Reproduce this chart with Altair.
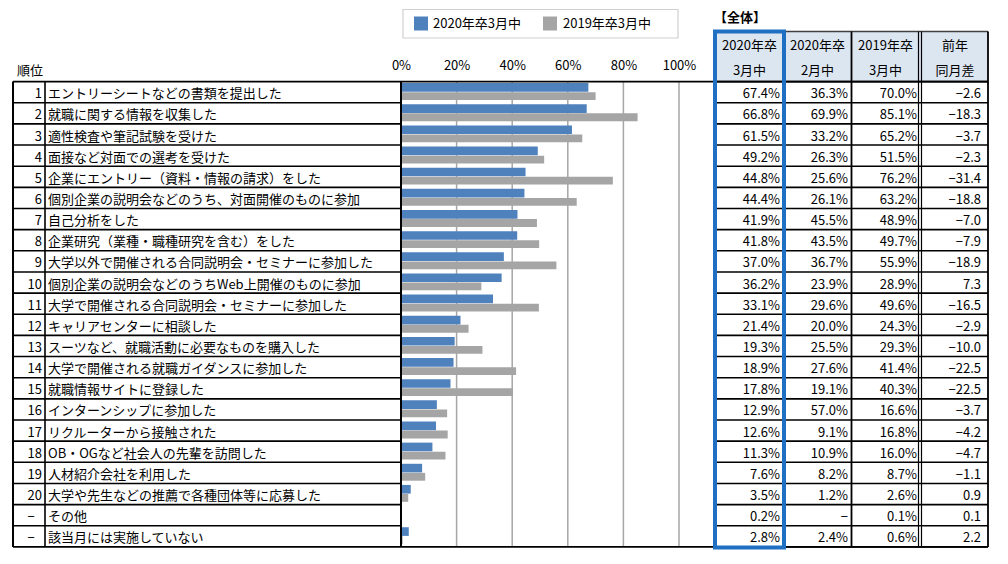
import altair as alt
import pandas as pd

F = "Noto Sans CJK JP"

ranks = [str(i) for i in range(1, 21)] + ["−", "−"]
labels = [
    "エントリーシートなどの書類を提出した",
    "就職に関する情報を収集した",
    "適性検査や筆記試験を受けた",
    "面接など対面での選考を受けた",
    "企業にエントリー（資料・情報の請求）をした",
    "個別企業の説明会などのうち、対面開催のものに参加",
    "自己分析をした",
    "企業研究（業種・職種研究を含む）をした",
    "大学以外で開催される合同説明会・セミナーに参加した",
    "個別企業の説明会などのうちWeb上開催のものに参加",
    "大学で開催される合同説明会・セミナーに参加した",
    "キャリアセンターに相談した",
    "スーツなど、就職活動に必要なものを購入した",
    "大学で開催される就職ガイダンスに参加した",
    "就職情報サイトに登録した",
    "インターンシップに参加した",
    "リクルーターから接触された",
    "OB・OGなど社会人の先輩を訪問した",
    "人材紹介会社を利用した",
    "大学や先生などの推薦で各種団体等に応募した",
    "その他",
    "該当月には実施していない",
]
mar2020 = [67.4, 66.8, 61.5, 49.2, 44.8, 44.4, 41.9, 41.8, 37.0, 36.2, 33.1,
           21.4, 19.3, 18.9, 17.8, 12.9, 12.6, 11.3, 7.6, 3.5, 0.2, 2.8]
feb2020 = [36.3, 69.9, 33.2, 26.3, 25.6, 26.1, 45.5, 43.5, 36.7, 23.9, 29.6,
           20.0, 25.5, 27.6, 19.1, 57.0, 9.1, 10.9, 8.2, 1.2, None, 2.4]
mar2019 = [70.0, 85.1, 65.2, 51.5, 76.2, 63.2, 48.9, 49.7, 55.9, 28.9, 49.6,
           24.3, 29.3, 41.4, 40.3, 16.6, 16.8, 16.0, 8.7, 2.6, 0.1, 0.6]
diff = [-2.6, -18.3, -3.7, -2.3, -31.4, -18.8, -7.0, -7.9, -18.9, 7.3, -16.5,
        -2.9, -10.0, -22.5, -22.5, -3.7, -4.2, -4.7, -1.1, 0.9, 0.1, 2.2]

series_names = ["2020年卒3月中", "2019年卒3月中"]
series_colors = ["#4f81bd", "#a5a5a5"]
axis_ticks = [0, 20, 40, 60, 80, 100]
headers = [("2020年卒", "3月中"), ("2020年卒", "2月中"), ("2019年卒", "3月中"), ("前年", "同月差")]


def pct(v):
    return "−" if v is None else f"{v:.1f}%"


def sgn(v):
    return (f"−{abs(v):.1f}" if v < 0 else f"{v:.1f}")


N = len(labels)
df = pd.DataFrame({
    "row": list(range(N)),
    "rank_num": [r if r != "−" else "" for r in ranks],
    "rank_dash": [r if r == "−" else "" for r in ranks],
    "label": labels,
    "c1": [pct(v) for v in mar2020],
    "c2": [pct(v) for v in feb2020],
    "c3": [pct(v) for v in mar2019],
    "c4": [sgn(v) for v in diff],
})
bars = pd.DataFrame({
    "row": list(range(N)) * 2,
    "series": [series_names[0]] * N + [series_names[1]] * N,
    "value": mar2020 + mar2019,
})
bounds = pd.DataFrame({"b": list(range(N + 1))})
grid = pd.DataFrame({"g": axis_ticks[1:]})
one = pd.DataFrame({"a": [0]})

# layout
H = 548
ROW_TOP_PX = 72.6
ROW_H = 21.15
Y_TOP = -ROW_TOP_PX / ROW_H
Y_BOT = Y_TOP + H / ROW_H
yscale = alt.Scale(domain=[Y_TOP, Y_BOT], reverse=True, nice=False, zero=False)
WA, WB, WC = 393, 311, 288
PX_PER_PCT = 2.78
xscale = alt.Scale(domain=[0, WB / PX_PER_PCT], nice=False, zero=False)


def hline(data, field, x0, x1, color="black", w=1.5):
    return alt.Chart(data).mark_rule(color=color, strokeWidth=w).encode(
        x=alt.value(x0), x2=alt.value(x1), y=alt.Y(f"{field}:Q", scale=yscale, axis=None))


def vline(px, y0, y1, color="black", w=1.5):
    return alt.Chart(one).mark_rule(color=color, strokeWidth=w).encode(
        x=alt.value(px), y=alt.Y(datum=y0, scale=yscale, axis=None), y2=alt.Y2(datum=y1))


def vline_px(px, y0px, y1px, color="black", w=1.5):
    return alt.Chart(one).mark_rule(color=color, strokeWidth=w).encode(
        x=alt.value(px), y=alt.value(y0px), y2=alt.value(y1px))


def row_text(field, px, align, dy=1):
    return alt.Chart(df).transform_calculate(yc="datum.row + 0.55").mark_text(
        align=align, baseline="middle", font=F, fontSize=13, color="black", dy=dy
    ).encode(x=alt.value(px), y=alt.Y("yc:Q", scale=yscale, axis=None), text=f"{field}:N")


def label_px(txt, px, py, align="left", size=13, weight="normal"):
    return alt.Chart(one).mark_text(align=align, baseline="middle", font=F, fontSize=size,
                                    fontWeight=weight, color="black").encode(
        x=alt.value(px), y=alt.value(py), text=alt.value(txt))


# Panel A: left table
panelA = alt.layer(
    hline(bounds, "b", 5, WA, w=1.6),
    vline(5, 0, N, w=2),
    vline(37, 0, N, w=1.6),
    row_text("rank_num", 34, "right"),
    row_text("rank_dash", 23, "center"),
    row_text("label", 40, "left"),
    label_px("順位", 9, 62),
).properties(width=WA, height=H)

# Panel B: bar chart
bar_layer = alt.Chart(bars).transform_calculate(
    y0=f"datum.row + (datum.series == '{series_names[0]}' ? 0.07 : 0.50)",
    y1=f"datum.row + (datum.series == '{series_names[0]}' ? 0.48 : 0.87)",
).mark_bar().encode(
    x=alt.X("value:Q", scale=xscale, axis=alt.Axis(
        orient="top", offset=-ROW_TOP_PX, values=axis_ticks, labelExpr="datum.value + '%'",
        domain=False, ticks=False, grid=False, labelFontSize=13, labelFont=F,
        labelColor="black", labelPadding=9, labelFlush=False, title=None)),
    x2=alt.X2(datum=0),
    y=alt.Y("y0:Q", scale=yscale, axis=None),
    y2="y1:Q",
    color=alt.Color("series:N", scale=alt.Scale(domain=series_names, range=series_colors), legend=None),
)
grid_layer = alt.Chart(grid).mark_rule(color="#a6a6a6", strokeWidth=1.5).encode(
    x=alt.X("g:Q", scale=xscale), y=alt.Y(datum=0, scale=yscale, axis=None), y2=alt.Y2(datum=N))
legend_df = pd.DataFrame({"series": series_names, "sx": [20, 149], "tx": [32, 162]})
legend_box = alt.Chart(one).mark_rect(fill="white", stroke="#d0d0d0", strokeWidth=1.2).encode(
    x=alt.value(2), x2=alt.value(277), y=alt.value(0.5), y2=alt.value(29))
legend_sym = [
    alt.Chart(legend_df.iloc[[i]]).mark_square(size=196, opacity=1).encode(
        x=alt.value(int(legend_df.sx[i])), y=alt.value(14.5),
        color=alt.Color("series:N", scale=alt.Scale(domain=series_names, range=series_colors), legend=None))
    for i in range(2)
]
legend_txt = [label_px(series_names[i], int(legend_df.tx[i]), 15) for i in range(2)]

panelB = alt.layer(
    grid_layer, bar_layer,
    vline(0, 0, N, w=2),
    hline(pd.DataFrame({"b": [0, N]}), "b", 0, WB, w=1.8),
    legend_box, *legend_sym, *legend_txt,
).properties(width=WB, height=H)

# Panel C: right table
BLUE = "#1f6fc2"
col_right = [68, 136, 205, 269]
col_center = [37.5, 105.5, 173.5, 243]
hdr_top = 22.5
box_bottom = ROW_TOP_PX + N * ROW_H + 0.5
layersC = [
    alt.Chart(one).mark_rect(fill="#dce6f1").encode(
        x=alt.value(3), x2=alt.value(276), y=alt.value(hdr_top), y2=alt.value(ROW_TOP_PX)),
    hline(bounds, "b", 3, 276, w=1.6),
    hline(pd.DataFrame({"b": [0, N]}), "b", 0, 276, w=1.8),
    alt.Chart(one).mark_rule(color="#404040", strokeWidth=1.5).encode(
        x=alt.value(72), x2=alt.value(276), y=alt.value(hdr_top)),
    vline_px(139.5, hdr_top, ROW_TOP_PX + N * ROW_H, w=1.8),
    vline_px(206.5, hdr_top, ROW_TOP_PX + N * ROW_H, w=1.2),
    vline_px(209.5, hdr_top, ROW_TOP_PX + N * ROW_H, w=1.2),
    vline_px(276, hdr_top, ROW_TOP_PX + N * ROW_H, w=1.8),
]
for i, f in enumerate(["c1", "c2", "c3", "c4"]):
    layersC.append(row_text(f, col_right[i], "right"))
    layersC.append(label_px(headers[i][0], col_center[i], 37, "center"))
    layersC.append(label_px(headers[i][1], col_center[i], 62, "center"))
layersC.append(alt.Chart(one).mark_rect(fill=None, stroke=BLUE, strokeWidth=4).encode(
    x=alt.value(3), x2=alt.value(72), y=alt.value(hdr_top), y2=alt.value(box_bottom)))
layersC.append(label_px("【全体】", 2, 9, "left", 13, "bold"))

panelC = alt.layer(*layersC).properties(width=WC, height=H)

chart = alt.hconcat(panelA, panelB, panelC, spacing=0, bounds="flush").properties(
    padding=0
).configure_view(stroke=None)

chart.save("out.html", embed_options={"renderer": "svg", "actions": False})
